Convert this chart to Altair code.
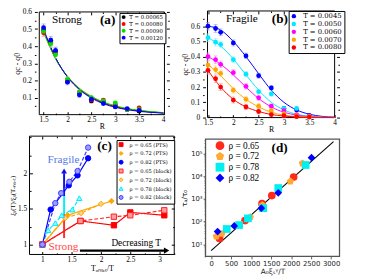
import altair as alt
import pandas as pd

W, H = 362, 270
SERIF = "Liberation Serif"
LSERIF = "DejaVu Serif"
SANS = "DejaVu Sans"

# ---------------- panel (a): strong former ----------------
R_pts = [1.5, 1.65, 1.75, 2.0, 2.25, 2.5, 2.75, 3.0, 3.25, 3.5]
R_fit = [1.5, 1.75, 2.0, 2.25, 2.5, 2.75, 3.0, 3.25, 3.5, 3.75, 4.0]
labels_a = ["T = 0.00065", "T = 0.00080", "T = 0.00090", "T = 0.00120"]
colors_a = ["#000000", "#ff0000", "#00e000", "#0000ff"]
errcol_a = ["#8c8c8c", "#ff8c8c", "#8cf08c", "#8c8cff"]
qa_00065 = [0.495, 0.425, 0.370, 0.200, 0.125, 0.080, 0.075, 0.050, 0.030, 0.020]
qa_00080 = [0.478, 0.420, 0.360, 0.200, 0.130, 0.085, 0.085, 0.060, 0.030, 0.040]
qa_00090 = [0.487, 0.415, 0.350, 0.205, 0.130, 0.100, 0.080, 0.068, 0.030, 0.030]
qa_00120 = [0.508, 0.435, 0.375, 0.190, 0.115, 0.090, 0.065, 0.045, 0.035, 0.025]
err_a = [0.022, 0.022, 0.020, 0.016, 0.014, 0.012, 0.010, 0.008, 0.007, 0.006]
fa_00065 = [0.490, 0.330, 0.222, 0.150, 0.102, 0.069, 0.047, 0.032, 0.022, 0.015, 0.010]
fa_00080 = [0.485, 0.328, 0.222, 0.151, 0.104, 0.071, 0.049, 0.034, 0.023, 0.016, 0.011]
fa_00090 = [0.480, 0.327, 0.224, 0.154, 0.107, 0.074, 0.052, 0.036, 0.025, 0.018, 0.012]
fa_00120 = [0.500, 0.333, 0.220, 0.146, 0.097, 0.064, 0.043, 0.029, 0.019, 0.013, 0.009]
xticks_a = [1.5, 2, 2.5, 3, 3.5, 4]
xminor_a = [1.75, 2.25, 2.75, 3.25, 3.75]
yticks_a = [0.1, 0.2, 0.3, 0.4, 0.5, 0.6]
yminor_a = [0.05, 0.15, 0.25, 0.35, 0.45, 0.55]
ann_a_x = [1.99, 2.84]
ann_a_y = [0.55, 0.55]
ann_a_t = ["Strong", "(a)"]

# ---------------- panel (b): fragile former ----------------
labels_b = ["T = 0.0045", "T = 0.0050", "T = 0.0060", "T = 0.0070", "T = 0.0080"]
colors_b = ["#0000ff", "#00e8ff", "#ff00ff", "#ffa500", "#ff0000"]
errcol_b = ["#8c8cff", "#8cf4ff", "#ff8cff", "#ffd28c", "#ff8c8c"]
qb_0045 = [0.600, 0.585, 0.560, 0.490, 0.405, 0.275, 0.195, 0.060, 0.050, 0.015]
qb_0050 = [0.525, 0.495, 0.480, 0.380, 0.285, 0.170, 0.155, 0.060, 0.060, 0.010]
qb_0060 = [0.400, 0.380, 0.350, 0.295, 0.205, 0.130, 0.075, 0.045, 0.020, 0.010]
qb_0070 = [0.345, 0.315, 0.290, 0.180, 0.120, 0.075, 0.045, 0.025, 0.012, 0.006]
qb_0080 = [0.310, 0.255, 0.200, 0.115, 0.070, 0.040, 0.020, 0.012, 0.006, 0.003]
err_b = [0.025, 0.025, 0.022, 0.020, 0.018, 0.016, 0.014, 0.010, 0.008, 0.006]
fb_0045 = [0.600, 0.575, 0.500, 0.400, 0.288, 0.180, 0.100, 0.050, 0.022, 0.008, 0.003]
fb_0050 = [0.525, 0.470, 0.385, 0.280, 0.180, 0.100, 0.050, 0.022, 0.009, 0.003, 0.001]
fb_0060 = [0.400, 0.350, 0.280, 0.200, 0.125, 0.070, 0.035, 0.016, 0.006, 0.002, 0.001]
fb_0070 = [0.350, 0.275, 0.190, 0.120, 0.070, 0.035, 0.016, 0.007, 0.003, 0.001, 0.000]
fb_0080 = [0.310, 0.200, 0.120, 0.070, 0.040, 0.020, 0.010, 0.004, 0.002, 0.001, 0.000]
xticks_b = [1.5, 2, 2.5, 3, 3.5, 4]
xminor_b = [1.75, 2.25, 2.75, 3.25, 3.75]
yticks_b = [0, 0.1, 0.2, 0.3, 0.4, 0.5, 0.6]
yminor_b = [0.05, 0.15, 0.25, 0.35, 0.45, 0.55, 0.65]
ann_b_x = [2.17, 2.92]
ann_b_y = [0.645, 0.645]
ann_b_t = ["Fragile", "(b)"]

# ---------------- panel (c): length-scale growth ----------------
labels_c = ["ρ = 0.65 (PTS)", "ρ = 0.72 (PTS)", "ρ = 0.82 (PTS)",
            "ρ = 0.65 (block)", "ρ = 0.72 (block)", "ρ = 0.78 (block)", "ρ = 0.82 (block)"]
style_c = ["PTS", "PTS", "PTS", "block", "block", "block", "block"]
stroke_c = ["#ff0000", "#ffa500", "#0000ff", "#ff2020", "#ffa500", "#00e8ff", "#3a3aff"]
fill_c = ["#ff0000", "#ffa500", "#0000ff", "#ff9c9c", "#ffd08a", "#8cffff", "#9c9cff"]
shape_c = ["square", "diamond", "circle", "square", "diamond", "triangle-up", "circle"]
xc_065_pts = [1.0, 1.65, 2.22, 2.5, 3.08]
yc_065_pts = [1.0, 1.33, 1.27, 1.45, 1.41]
xc_072_pts = [1.0, 1.43, 2.18]
yc_072_pts = [1.0, 1.41, 1.61]
xc_082_pts = [1.0, 1.14, 1.45, 1.60, 1.78]
yc_082_pts = [1.0, 1.49, 1.83, 1.97, 2.21]
xc_065_blk = [1.0, 1.65, 2.22, 2.5, 3.08]
yc_065_blk = [1.0, 1.33, 1.39, 1.41, 1.48]
xc_072_blk = [1.0, 1.39, 1.66, 2.0]
yc_072_blk = [1.0, 1.37, 1.44, 1.57]
xc_078_blk = [1.0, 1.10, 1.22, 1.33, 1.51, 1.63]
yc_078_blk = [1.0, 1.20, 1.30, 1.41, 1.49, 1.65]
xc_082_blk = [1.0, 1.22, 1.32, 1.46, 1.60, 1.78]
yc_082_blk = [1.0, 1.58, 1.72, 1.88, 2.03, 2.36]
xticks_c = [1, 1.5, 2, 2.5, 3]
xminor_c = [1.25, 1.75, 2.25, 2.75, 3.25]
yticks_c = [1, 1.5, 2]
yminor_c = [1.25, 1.75, 2.25, 2.5]
arrow_c_x = [1.37]
arrow_blue_y = [1.68, 2.00]
arrow_cyan_y = [1.43, 1.68]
arrow_red_y = [1.09, 1.43]
arrow_head_y = [2.03]
decr_x = [1.64, 3.08]
decr_y = [0.915]
decr_head_x = [3.12]

# ---------------- panel (d): collapse ----------------
labels_d = ["ρ = 0.65", "ρ = 0.72", "ρ = 0.78", "ρ = 0.82"]
colors_d = ["#ff2a1a", "#ffaa33", "#00f0f0", "#0000ff"]
PENTAGON = "M0,-1L0.951,-0.309L0.588,0.809L-0.588,0.809L-0.951,-0.309Z"
shapes_d = ["circle", PENTAGON, "square", "diamond"]
xd_065 = [211, 847, 1272, 1517, 2063]
yd_065 = [18, 110, 615, 1400, 9100]
xd_072 = [130, 269, 978, 1280, 1982, 2283]
yd_072 = [22, 29, 155, 530, 5900, 37000]
xd_078 = [391, 700, 920, 1300, 1679, 2364]
yd_078 = [47, 70, 138, 390, 3000, 31000]
xd_082 = [162, 578, 1255, 1679, 2510]
yd_082 = [36, 64, 390, 1850, 65000]
fit_d_x = [0, 3060]
fit_d_y = [5.2, 330000]
xticks_d = [0, 500, 1000, 1500, 2000, 2500, 3000]
yticks_d = [10, 100, 1000, 10000, 100000]
yminor_d = [m * 10 ** e for e in range(0, 6) for m in range(2, 10) if 2.9 <= m * 10 ** e <= 4.3e5]


# ---------------- helpers ----------------
def long(xs_list, ys_list, labels, err=None, extra=None):
    rows = []
    for k, (lab, xs, ys) in enumerate(zip(labels, xs_list, ys_list)):
        for i, (x, y) in enumerate(zip(xs, ys)):
            r = {"x": x, "y": y, "s": lab, "k": k}
            if err is not None:
                r["lo"] = y - err[i]
                r["hi"] = y + err[i]
            if extra is not None:
                r["style"] = extra[k]
            rows.append(r)
    return pd.DataFrame(rows)


def lin(dom, rng):
    return alt.Scale(type="linear", domain=dom, range=rng, nice=False)


def XQ(f, sx):
    return alt.X(f, type="quantitative", scale=sx, axis=None)


def YQ(f, sy):
    return alt.Y(f, type="quantitative", scale=sy, axis=None)


def tick_layers(f, sx, sy, xr, yr, xvals, yvals, size):
    tk = dict(grid=False, labels=False, domain=False, ticks=True, tickSize=size,
              tickColor="black", tickWidth=1, title=None)
    t1 = alt.Chart(f).mark_rect(opacity=0).encode(
        x=alt.X("x0:Q", scale=sx, axis=alt.Axis(orient="top", offset=-yr[0], values=xvals, **tk)), x2="x1:Q",
        y=alt.Y("y0:Q", scale=sy, axis=alt.Axis(orient="right", offset=xr[0] - W, values=yvals, **tk)), y2="y1:Q")
    t2 = alt.Chart(f).mark_rect(opacity=0).encode(
        x=alt.X("x0:Q", scale=sx, axis=alt.Axis(orient="bottom", offset=yr[1] - H, values=xvals, **tk)), x2="x1:Q",
        y=alt.Y("y0:Q", scale=sy, axis=alt.Axis(orient="left", offset=-xr[1], values=yvals, **tk)), y2="y1:Q")
    return [t1, t2]


def grace_frame(xdom, ydom, xr, yr, xvals, yvals, xminor, yminor, xtitle, ytitle,
                xlabpad=1, ylabpad=3, xtitpad=0, ytitpad=1, lab=7.5, tit=8, ytit=8):
    sx = lin(xdom, xr)
    sy = lin(ydom, yr)
    f = pd.DataFrame({"x0": [xdom[0]], "x1": [xdom[1]], "y0": [ydom[0]], "y1": [ydom[1]]})
    common = dict(grid=False, domain=False, labelFont=SERIF, titleFont=SERIF,
                  labelColor="black", titleColor="black", labelFontSize=lab,
                  titleFontWeight="normal", labelFlush=False,
                  labelOverlap=False, format="~g")
    ax = alt.Axis(orient="bottom", offset=yr[0] - H, values=xvals, ticks=False, titleFontSize=tit,
                  labelPadding=xlabpad, title=xtitle, titlePadding=xtitpad, **common)
    ay = alt.Axis(orient="left", offset=-xr[0], values=yvals, ticks=False, titleFontSize=ytit,
                  labelPadding=ylabpad, title=ytitle, titlePadding=ytitpad, **common)
    frame = alt.Chart(f).mark_rect(fillOpacity=0, stroke="black", strokeWidth=1).encode(
        x=alt.X("x0:Q", scale=sx, axis=ax), x2="x1:Q",
        y=alt.Y("y0:Q", scale=sy, axis=ay), y2="y1:Q")
    layers = [frame] + tick_layers(f, sx, sy, xr, yr, xvals, yvals, 3) + \
        tick_layers(f, sx, sy, xr, yr, xminor, yminor, 1.6)
    return sx, sy, layers


def texts(xs, ys, ts, sx, sy, **mk):
    df = pd.DataFrame({"x": xs, "y": ys, "t": ts})
    return alt.Chart(df).mark_text(baseline="middle", align="center", **mk).encode(
        x=XQ("x", sx), y=YQ("y", sy), text="t:N")


def fit_panel(labels, colors, errcols, pts_list, err, fit_list, sx, sy, leg):
    n = len(labels)
    dfp = long([R_pts] * n, pts_list, labels, err)
    dff = long([R_fit] * n, fit_list, labels)
    cs = alt.Scale(domain=labels, range=colors)
    ls = alt.Scale(domain=list(range(n)), range=colors)
    es = alt.Scale(domain=list(range(n)), range=errcols)
    curves = alt.Chart(dff).mark_line(strokeWidth=1, interpolate="monotone").encode(
        x=XQ("x", sx), y=YQ("y", sy), stroke=alt.Stroke("k:N", scale=ls, legend=None))
    errs = alt.Chart(dfp).mark_bar(size=0.9).encode(
        x=XQ("x", sx), y=YQ("lo", sy), y2="hi", fill=alt.Fill("k:N", scale=es, legend=None))
    cap_lo = alt.Chart(dfp).mark_tick(orient="horizontal", size=4, thickness=0.8).encode(
        x=XQ("x", sx), y=YQ("lo", sy), fill=alt.Fill("k:N", scale=es, legend=None))
    cap_hi = alt.Chart(dfp).mark_tick(orient="horizontal", size=4, thickness=0.8).encode(
        x=XQ("x", sx), y=YQ("hi", sy), fill=alt.Fill("k:N", scale=es, legend=None))
    pts = alt.Chart(dfp).mark_point(filled=True, size=24, opacity=1).encode(
        x=XQ("x", sx), y=YQ("y", sy), color=alt.Color("s:N", scale=cs, legend=leg))
    return [curves, errs, cap_lo, cap_hi, pts]


def box_legend(x, y, fs, pad, rowpad, off, ssize, stype=None):
    kw = dict(orient="none", legendX=x, legendY=y, title=None, strokeColor="black",
              fillColor="white", padding=pad, cornerRadius=0, labelFont=LSERIF,
              labelFontSize=fs, labelColor="black", symbolSize=ssize,
              rowPadding=rowpad, labelOffset=off, symbolStrokeWidth=1)
    if stype:
        kw["symbolType"] = stype
    return alt.Legend(**kw)


# ---------------- panel (a) ----------------
sxa, sya, fr_a = grace_frame([1.41, 4.03], [0, 0.6], [27, 165], [106, 1], xticks_a, yticks_a,
                             xminor_a, yminor_a, "R", "qc - q0")
leg_a = box_legend(114, 2, 5.5, 1.5, 0, 3, 16, "circle")
data_a = fit_panel(labels_a, colors_a, errcol_a, [qa_00065, qa_00080, qa_00090, qa_00120], err_a,
                   [fa_00065, fa_00080, fa_00090, fa_00120], sxa, sya, leg_a)
txt_a1 = texts(ann_a_x[:1], ann_a_y[:1], ann_a_t[:1], sxa, sya, font=SERIF, fontSize=11.5, color="black")
txt_a2 = texts(ann_a_x[1:], ann_a_y[1:], ann_a_t[1:], sxa, sya, font=SERIF, fontSize=13.5,
               fontWeight="bold", color="black")
panel_a = alt.layer(*fr_a, *data_a, txt_a1, txt_a2).resolve_axis(x="independent", y="independent")

# ---------------- panel (b) ----------------
sxb, syb, fr_b = grace_frame([1.49, 4.0], [0, 0.7], [199, 339], [109, 0], xticks_b, yticks_b,
                             xminor_b, yminor_b, "R", "qc - q0")
leg_b = box_legend(287, 0, 7, 1.8, 0, 6, 20, "circle")
data_b = fit_panel(labels_b, colors_b, errcol_b, [qb_0045, qb_0050, qb_0060, qb_0070, qb_0080], err_b,
                   [fb_0045, fb_0050, fb_0060, fb_0070, fb_0080], sxb, syb, leg_b)
txt_b1 = texts(ann_b_x[:1], ann_b_y[:1], ann_b_t[:1], sxb, syb, font=SERIF, fontSize=11.5, color="black")
txt_b2 = texts(ann_b_x[1:], ann_b_y[1:], ann_b_t[1:], sxb, syb, font=SERIF, fontSize=13.5,
               fontWeight="bold", color="black")
panel_b = alt.layer(*fr_b, *data_b, txt_b1, txt_b2).resolve_axis(x="independent", y="independent")

# ---------------- panel (c) ----------------
sxc, syc, fr_c = grace_frame([0.78, 3.25], [0.86, 2.52], [22, 170], [249, 128], xticks_c, yticks_c,
                             xminor_c, yminor_c, "Tₒₙₛₑₜ/T", "ξₛ(T)/ξₛ(Tₒₙₛₑₜ)", xlabpad=1.5,
                             ylabpad=3, xtitpad=1.5, ytitpad=1.5, ytit=7)
dfc = long([xc_065_pts, xc_072_pts, xc_082_pts, xc_065_blk, xc_072_blk, xc_078_blk, xc_082_blk],
           [yc_065_pts, yc_072_pts, yc_082_pts, yc_065_blk, yc_072_blk, yc_078_blk, yc_082_blk],
           labels_c, extra=style_c)
ln_c = alt.Scale(domain=list(range(len(labels_c))), range=stroke_c)
st_c = alt.Scale(domain=labels_c, range=stroke_c)
fi_c = alt.Scale(domain=labels_c, range=fill_c)
sh_c = alt.Scale(domain=labels_c, range=shape_c)
leg_c = box_legend(111, 132, 5.3, 2, 0, 6, 16)
lines_c = alt.Chart(dfc).mark_line(strokeWidth=1.2).encode(
    x=XQ("x", sxc), y=YQ("y", syc),
    color=alt.Color("k:N", scale=ln_c, legend=None),
    strokeDash=alt.StrokeDash("style:N", scale=alt.Scale(domain=["PTS", "block"], range=[[1, 0], [4, 2]]),
                              legend=None))
pts_c = alt.Chart(dfc).mark_point(filled=True, size=30, opacity=1, strokeWidth=1).encode(
    x=XQ("x", sxc), y=YQ("y", syc),
    stroke=alt.Stroke("s:N", scale=st_c, legend=leg_c),
    fill=alt.Fill("s:N", scale=fi_c, legend=leg_c),
    shape=alt.Shape("s:N", scale=sh_c, legend=leg_c))
a_blue = alt.Chart(pd.DataFrame({"x": arrow_c_x, "y0": arrow_blue_y[:1], "y1": arrow_blue_y[1:]})).mark_rule(
    color="#1010ee", strokeWidth=2).encode(x=XQ("x", sxc), y=YQ("y0", syc), y2="y1")
a_cyan = alt.Chart(pd.DataFrame({"x": arrow_c_x, "y0": arrow_cyan_y[:1], "y1": arrow_cyan_y[1:]})).mark_rule(
    color="#00f0ff", strokeWidth=2).encode(x=XQ("x", sxc), y=YQ("y0", syc), y2="y1")
a_red = alt.Chart(pd.DataFrame({"x": arrow_c_x, "y0": arrow_red_y[:1], "y1": arrow_red_y[1:]})).mark_rule(
    color="#ff3030", strokeWidth=2).encode(x=XQ("x", sxc), y=YQ("y0", syc), y2="y1")
a_head = alt.Chart(pd.DataFrame({"x": arrow_c_x, "y": arrow_head_y})).mark_point(
    shape="triangle-up", filled=True, size=36, color="#1010ee", opacity=1).encode(x=XQ("x", sxc), y=YQ("y", syc))
d_line = alt.Chart(pd.DataFrame({"x0": decr_x[:1], "x1": decr_x[1:], "y": decr_y})).mark_rule(
    color="black", strokeWidth=2.2).encode(x=XQ("x0", sxc), x2="x1", y=YQ("y", syc))
d_head = alt.Chart(pd.DataFrame({"x": decr_head_x, "y": decr_y})).mark_point(
    shape="triangle-right", filled=True, size=40, color="black", opacity=1).encode(x=XQ("x", sxc), y=YQ("y", syc))
txt_c = [
    texts([1.36], [2.19], ["Fragile"], sxc, syc, font=SERIF, fontSize=11.5, color="#5878e6"),
    texts([1.36], [0.97], ["Strong"], sxc, syc, font=SERIF, fontSize=11.5, color="#ff4a4a"),
    texts([2.6], [1.02], ["Decreasing T"], sxc, syc, font=SERIF, fontSize=9.5, color="black"),
    texts([2.06], [2.375], ["(c)"], sxc, syc, font=SERIF, fontSize=13.5, fontWeight="bold", color="black"),
]
panel_c = alt.layer(*fr_c, a_red, a_cyan, a_blue, a_head, lines_c, pts_c, d_line, d_head, *txt_c).resolve_axis(
    x="independent", y="independent")

# ---------------- panel (d) ----------------
xr_d, yr_d = [202, 339], [251, 131]
xdom_d, ydom_d = [-140, 3210], [2.9, 4.3e5]
sxd = lin(xdom_d, xr_d)
syd = alt.Scale(type="log", domain=ydom_d, range=yr_d, nice=False)
fd = pd.DataFrame({"x0": [xdom_d[0]], "x1": [xdom_d[1]], "y0": [ydom_d[0]], "y1": [ydom_d[1]]})
dcommon = dict(grid=False, domain=False, labelFont=SANS, titleFont=SANS, labelColor="#222",
               titleColor="#222", labelFontSize=7, titleFontSize=7.5, titleFontWeight="normal",
               labelFlush=False, labelOverlap=False, tickColor="#333", tickSize=2.5, tickWidth=0.8)
ax_d = alt.Axis(orient="bottom", offset=yr_d[0] - H, values=xticks_d, format="d", labelPadding=0.5,
                title="A₀ξₛᵞ/T", titlePadding=1.5, **dcommon)
ay_d = alt.Axis(orient="left", offset=-xr_d[0], values=yticks_d,
                labelExpr="'10' + ['⁰','¹','²','³','⁴','⁵','⁶'][round(log(datum.value)/LN10)]",
                labelPadding=1, title="τₐ/τ₀", titlePadding=2, **dcommon)
frame_d = alt.Chart(fd).mark_rect(fillOpacity=0, stroke="#555555", strokeWidth=1.3).encode(
    x=alt.X("x0:Q", scale=sxd, axis=ax_d), x2="x1:Q", y=alt.Y("y0:Q", scale=syd, axis=ay_d), y2="y1:Q")
minor_d = alt.Chart(fd).mark_rect(opacity=0).encode(
    x=XQ("x0", sxd), x2="x1:Q",
    y=alt.Y("y0:Q", scale=syd, axis=alt.Axis(orient="left", offset=-xr_d[0], values=yminor_d, labels=False,
                                              domain=False, grid=False, ticks=True, tickSize=1.5,
                                              tickColor="#333", tickWidth=0.6, title=None)), y2="y1:Q")
dfd = long([xd_065, xd_072, xd_078, xd_082], [yd_065, yd_072, yd_078, yd_082], labels_d)
leg_d = alt.Legend(orient="none", legendX=212, legendY=133, title=None, padding=0,
                   labelFont=SERIF, labelFontSize=9.5, labelColor="black", symbolSize=80,
                   rowPadding=0, labelOffset=4, symbolStrokeWidth=0)
fit_d = alt.Chart(pd.DataFrame({"x": fit_d_x, "y": fit_d_y})).mark_line(color="black", strokeWidth=1.1).encode(
    x=XQ("x", sxd), y=YQ("y", syd))
pts_d = alt.Chart(dfd).mark_point(filled=True, size=62, opacity=1).encode(
    x=XQ("x", sxd), y=YQ("y", syd),
    color=alt.Color("s:N", scale=alt.Scale(domain=labels_d, range=colors_d), legend=leg_d),
    shape=alt.Shape("s:N", scale=alt.Scale(domain=labels_d, range=shapes_d), legend=leg_d))
txt_d = texts([1713], [176000], ["(d)"], sxd, syd, font=SERIF, fontSize=13.5, fontWeight="bold", color="black")
panel_d = alt.layer(frame_d, minor_d, fit_d, pts_d, txt_d).resolve_axis(x="independent", y="independent")

chart = alt.layer(panel_a, panel_b, panel_c, panel_d).resolve_scale(
    x="independent", y="independent", color="independent", stroke="independent",
    fill="independent", shape="independent", strokeDash="independent"
).resolve_axis(x="independent", y="independent").properties(
    width=W, height=H, padding=0, autosize=alt.AutoSizeParams(type="none")
).configure_view(stroke="transparent")

chart.save("out.html", embed_options={"renderer": "svg", "actions": False})
